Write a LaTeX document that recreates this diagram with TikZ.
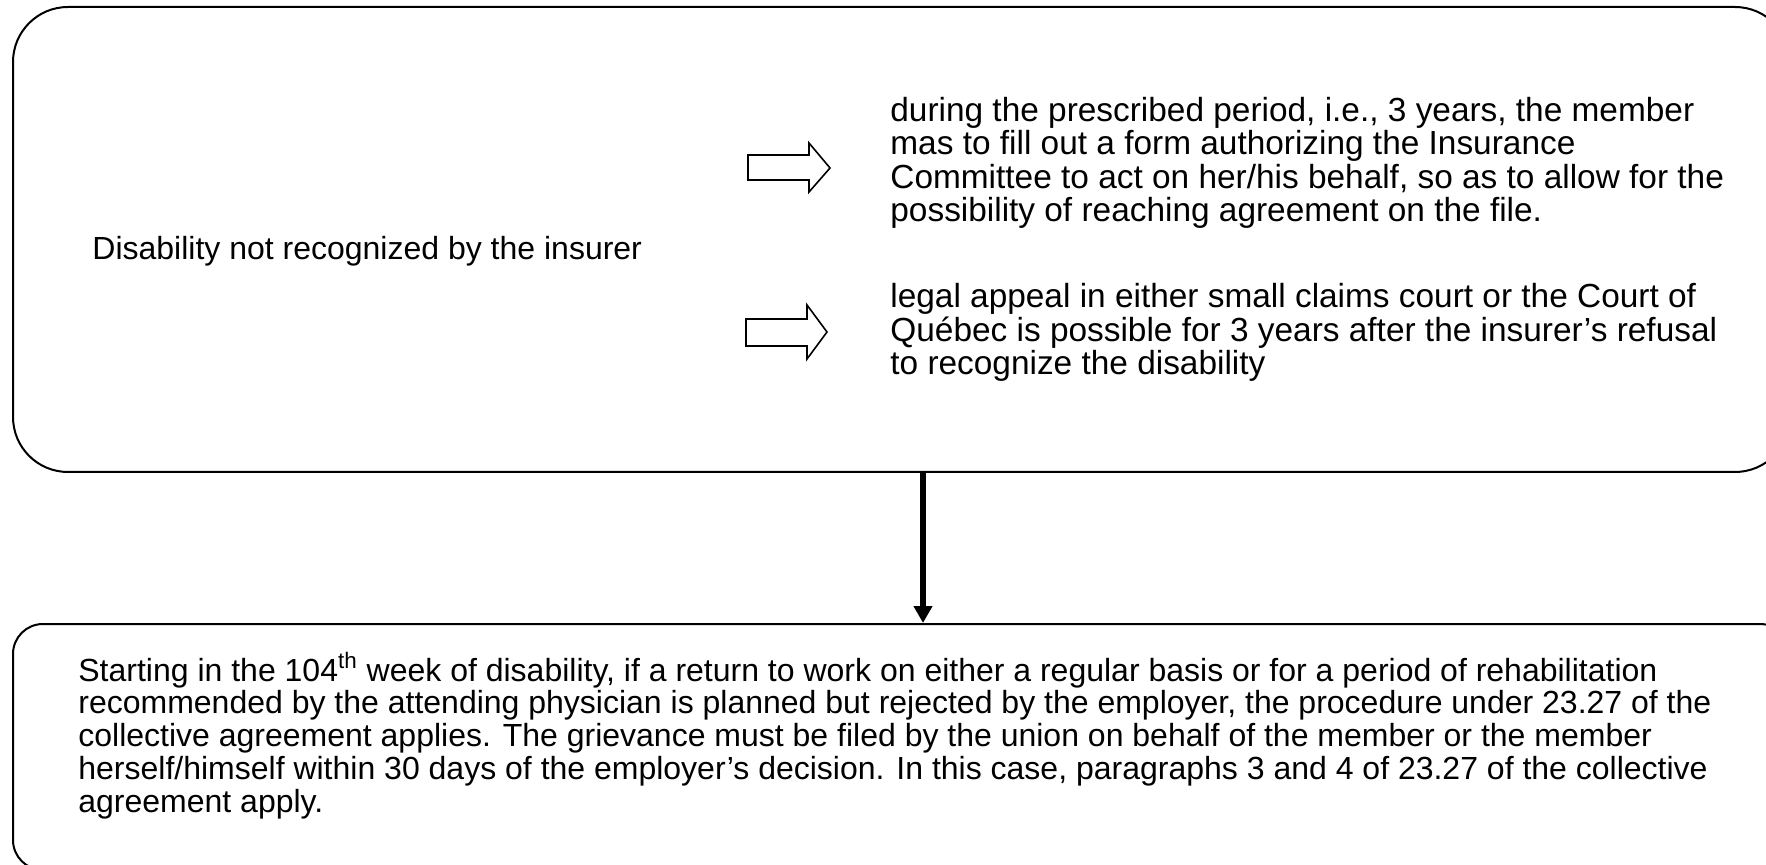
\documentclass[tikz,border=0pt]{standalone}
\usepackage{fontspec}
\setmainfont{Liberation Sans}
\usetikzlibrary{arrows.meta}
\tikzset{
  box/.style={draw=black, line width=1pt, fill=none, inner sep=0pt},
  txt/.style={inner sep=0pt, anchor=base west, align=left, font=\fontsize{16pt}{18pt}\selectfont},
  rtxt/.style={inner sep=0pt, anchor=base west, align=left, font=\fontsize{16.7pt}{16.75pt}\selectfont},
  btxt/.style={inner sep=0pt, anchor=base west, align=left, font=\fontsize{16pt}{16.35pt}\selectfont},
  blockarrow/.style={draw=black, line width=0.8pt, fill=white, line join=miter},
  bigarrow/.style={draw=black, line width=3pt, -{Triangle[length=8.5pt, width=9pt]}},
}
\begin{document}
\begin{tikzpicture}[x=0.5pt, y=-0.5pt]
\useasboundingbox (0,0) rectangle (1766,865);
\fill[white] (0,0) rectangle (1766,865);
% boxes
\node[box, rounded corners=27.5pt, minimum width=888.5pt, minimum height=232.5pt] (top) at (901.5,239.5) {};
\node[box, rounded corners=15pt, minimum width=888.5pt, minimum height=123pt] (bot) at (901.5,747) {};
% left text
\node[txt] (lefttext) at (92,260) {Disability not recognized by the insurer};
% block arrows
\draw[blockarrow] (748,155) -- (809,155) -- (809,143) -- (830,168) -- (809,192) -- (809,180) -- (748,180) -- cycle;
\draw[blockarrow] (746,319) -- (807,319) -- (807,305) -- (827,332) -- (807,359) -- (807,346) -- (746,346) -- cycle;
% right texts (anchor at baseline of last line)
\node[rtxt] (opt1) at (890,222) {during the prescribed period, i.e., 3 years, the member\\
mas to fill out a form authorizing the Insurance\\
Committee to act on her/his behalf, so as to allow for the\\
possibility of reaching agreement on the file.};
\node[rtxt] (opt2) at (890,375) {legal appeal in either small claims court or the Court of\\
Québec is possible for 3 years after the insurer’s refusal\\
to recognize the disability};
% bottom text
\node[btxt] (bottext) at (78,812) {Starting in the 104\textsuperscript{th} week of disability, if a return to work on either a regular basis or for a period of rehabilitation\\
recommended by the attending physician is planned but rejected by the employer, the procedure under 23.27 of the\\
collective agreement applies. The grievance must be filed by the union on behalf of the member or the member\\
herself/himself within 30 days of the employer’s decision. In this case, paragraphs 3 and 4 of 23.27 of the collective\\
agreement apply.};
% connector
\coordinate (ax) at (923,0);
\draw[bigarrow] (top.south -| ax) -- (bot.north -| ax);
\end{tikzpicture}
\end{document}
